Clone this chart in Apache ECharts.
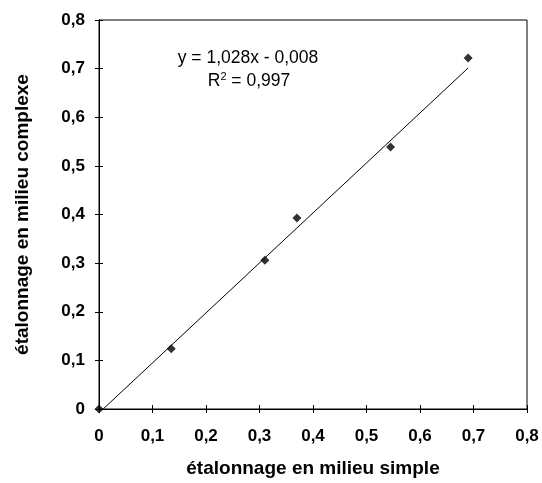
<!DOCTYPE html>
<html><head><meta charset="utf-8">
<script src="https://cdn.jsdelivr.net/npm/echarts@6/dist/echarts.min.js"></script>
<style>html,body{margin:0;padding:0;background:#fff}#c{width:542px;height:483px}</style>
</head><body><div id="c"></div>
<script>
const xValues = [0, 0.135, 0.31, 0.37, 0.545, 0.69];
const yValues = [0, 0.124, 0.306, 0.393, 0.539, 0.722];
const slope = 1.028, intercept = -0.008;
const eqText = "y = 1,028x - 0,008";
const r2Text = "R{sup|2} = 0,997";
const xName = "étalonnage en milieu simple";
const yName = "étalonnage en milieu complexe";

const pts = xValues.map((x, i) => [x, yValues[i]]);
const xMax = Math.max(...xValues);
const x0 = -intercept / slope;
const trend = [[x0, 0], [xMax, slope * xMax + intercept]];
const fmt = v => (Math.round(v * 10) / 10).toString().replace('.', ',');
const font = 'Liberation Sans, Arial, sans-serif';

const chart = echarts.init(document.getElementById('c'), null, {renderer: 'canvas'});
const baseAxis = {
  type: 'value', min: 0, max: 0.8, interval: 0.1,
  splitLine: {show: false},
  axisLine: {show: true, onZero: false, lineStyle: {color: '#000', width: 1}},
  axisTick: {show: true, length: 4, lineStyle: {color: '#000'}},
};
chart.setOption({
  animation: false,
  grid: {left: 99, right: 15, top: 20, bottom: 72, show: true, borderColor: '#000', borderWidth: 1},
  xAxis: [
    Object.assign({}, baseAxis, {
      name: xName, nameLocation: 'middle', nameGap: 50,
      nameTextStyle: {fontFamily: font, fontSize: 19, fontWeight: 'bold', color: '#000'},
      axisLabel: {formatter: fmt, fontFamily: font, fontSize: 17, fontWeight: 'bold', color: '#000', margin: 19}
    }),
    Object.assign({}, baseAxis, {position: 'bottom', axisLine: {show: false}, axisLabel: {show: false}, axisTick: {show: true, inside: true, length: 4, lineStyle: {color: '#000'}}})
  ],
  yAxis: [
    Object.assign({}, baseAxis, {
      name: yName, nameLocation: 'middle', nameGap: 67,
      nameTextStyle: {fontFamily: font, fontSize: 19, fontWeight: 'bold', color: '#000'},
      axisLabel: {formatter: fmt, fontFamily: font, fontSize: 17, fontWeight: 'bold', color: '#000', margin: 14}
    }),
    Object.assign({}, baseAxis, {position: 'left', axisLine: {show: false}, axisLabel: {show: false}, axisTick: {show: true, inside: true, length: 4, lineStyle: {color: '#000'}}})
  ],
  series: [
    {type: 'line', data: trend, symbol: 'none', lineStyle: {color: '#000', width: 1}, silent: true},
    {type: 'scatter', data: pts, symbol: 'diamond', symbolSize: 9, itemStyle: {color: '#000'}}
  ],
  graphic: [
    {type: 'text', x: 248, y: 58, style: {text: eqText, font: '17.5px ' + font, fill: '#000', align: 'center', verticalAlign: 'middle'}},
    {type: 'text', x: 249, y: 81, style: {text: r2Text, font: '17.5px ' + font, fill: '#000', align: 'center', verticalAlign: 'middle',
      rich: {sup: {fontSize: 11, fontFamily: font, verticalAlign: 'top', padding: [0, 0, 9, 0]}}}}
  ]
});
</script></body></html>
